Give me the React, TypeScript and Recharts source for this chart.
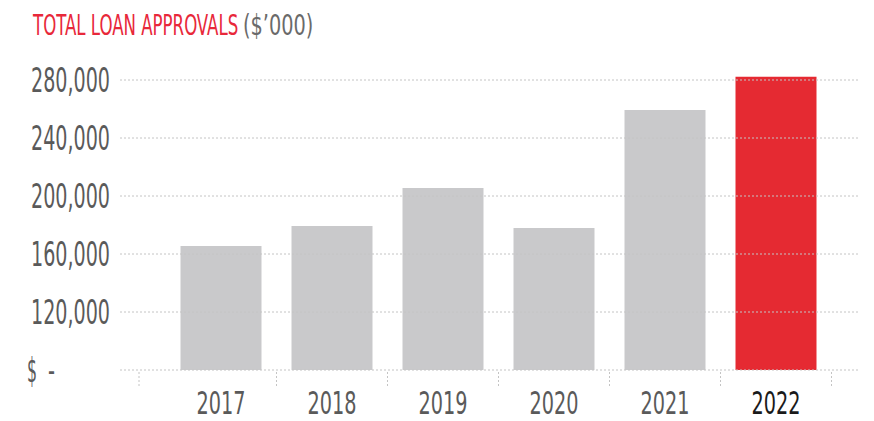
import { BarChart, Bar, XAxis, YAxis, ReferenceLine, Cell } from 'recharts';

// Total loan approvals by year ($'000)
const years = ['2017', '2018', '2019', '2020', '2021', '2022'];
const approvals = [165500, 179300, 205500, 177900, 259300, 282300];
const yTicks = [80000, 120000, 160000, 200000, 240000, 280000];

const GREY = '#c9c9cb';
const RED = '#e52a32';
const FONT = "'Liberation Sans Narrow', 'DejaVu Sans Condensed', 'Roboto', sans-serif";
const BAND = 111;

const chartData = years.map((year, i) => ({ year, value: approvals[i] }));

function YTick(props: any) {
  const { x, y, payload } = props;
  if (payload.value === yTicks[0]) {
    // accounting-style zero label
    return (
      <text y={y} dy={12} fill="#5a5a5a" fontFamily={FONT} fontSize={34}>
        <tspan x={27} textLength={10} lengthAdjust="spacingAndGlyphs">$</tspan>
        <tspan x={48} textLength={7} lengthAdjust="spacingAndGlyphs">-</tspan>
      </text>
    );
  }
  const label = payload.value.toLocaleString('en-US');
  return (
    <text
      x={x}
      y={y}
      dy={12}
      textAnchor="end"
      fill="#5a5a5a"
      fontFamily={FONT}
      fontSize={34}
      textLength={79}
      lengthAdjust="spacingAndGlyphs"
    >
      {label}
    </text>
  );
}

function XTick(props: any) {
  const { x, y, payload, index } = props;
  const isLast = index === years.length - 1;
  const leftEdge = index === 0 ? x - 82 : x - BAND / 2;
  return (
    <g>
      <line x1={leftEdge} x2={leftEdge} y1={y + 2} y2={y + 18} stroke="#c4c4c4" strokeDasharray="2 2" />
      {isLast && (
        <line x1={x + BAND / 2} x2={x + BAND / 2} y1={y + 2} y2={y + 18} stroke="#c4c4c4" strokeDasharray="2 2" />
      )}
      <text
        x={x}
        y={y + 44}
        textAnchor="middle"
        fill={isLast ? '#1a1a1a' : '#5a5a5a'}
        fontFamily={FONT}
        fontSize={32}
        textLength={49}
        lengthAdjust="spacingAndGlyphs"
      >
        {payload.value}
      </text>
    </g>
  );
}

export default function App() {
  return (
    <div style={{ position: 'absolute', left: 0, top: 0, width: 874, height: 421, background: '#fff' }}>
      <svg width={874} height={50} style={{ position: 'absolute', left: 0, top: 0 }}>
        <g transform="translate(33,35) scale(0.672,1)">
          <text x={0} y={0} fill="#e8283a" fontFamily={FONT} fontSize={27.5}>
            TOTAL LOAN APPROVALS
          </text>
        </g>
        <g transform="translate(243,35) scale(0.766,1)">
          <text x={0} y={0} fill="#6a6a6a" fontFamily={FONT} fontSize={28}>
            ($’000)
          </text>
        </g>
      </svg>
      <div style={{ position: 'absolute', left: 0, top: 0 }}>
        <BarChart
          width={874}
          height={421}
          data={chartData}
          margin={{ top: 51, right: 14, bottom: 0, left: 0 }}
          barSize={81}
        >
          <XAxis
            dataKey="year"
            axisLine={false}
            tickLine={false}
            tickSize={0}
            tickMargin={0}
            height={51}
            padding={{ left: 45.5, right: 28.5 }}
            tick={<XTick />}
            interval={0}
          />
          <YAxis
            width={120}
            domain={[80000, 300000]}
            ticks={yTicks}
            allowDataOverflow
            axisLine={false}
            tickLine={false}
            tickSize={0}
            tickMargin={10}
            tick={<YTick />}
          />
          {yTicks.map((t) => (
            <ReferenceLine key={t} y={t} stroke="#c4c4c4" strokeDasharray="2 2" />
          ))}
          <Bar dataKey="value" isAnimationActive={false}>
            {chartData.map((d, i) => (
              <Cell key={d.year} fill={i === chartData.length - 1 ? RED : GREY} />
            ))}
          </Bar>
        </BarChart>
      </div>
    </div>
  );
}
